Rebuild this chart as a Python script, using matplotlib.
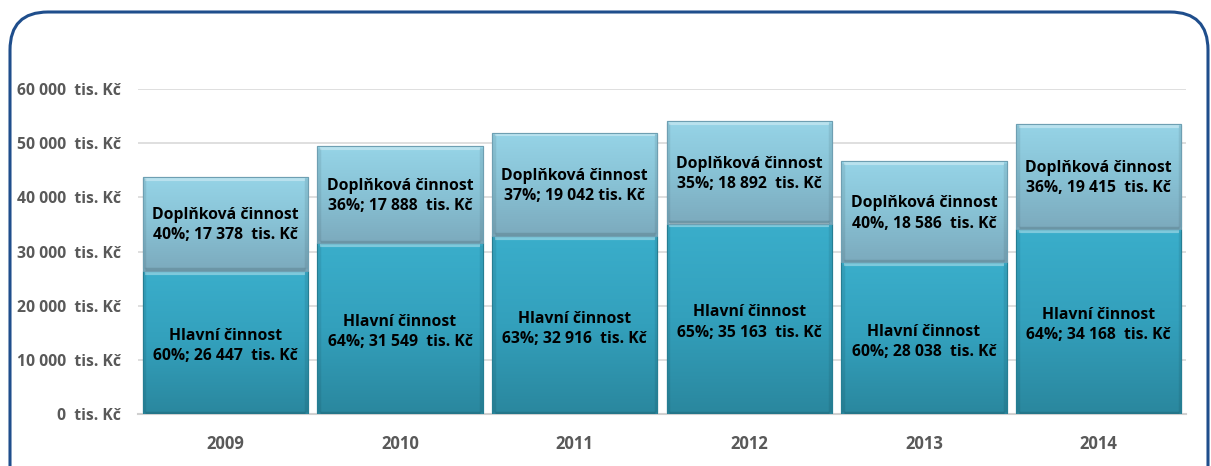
import numpy as np
import matplotlib
matplotlib.use("Agg")
import matplotlib.pyplot as plt
from matplotlib.patches import FancyBboxPatch
from matplotlib.colors import LinearSegmentedColormap

plt.rcParams.update({
    "font.family": ["Open Sans", "DejaVu Sans"],
    "font.weight": "bold",
})

years = ["2009", "2010", "2011", "2012", "2013", "2014"]
hlavni = [26447, 31549, 32916, 35163, 28038, 34168]
doplnkova = [17378, 17888, 19042, 18892, 18586, 19415]
hlavni_labels = [
    "Hlavní činnost\n60%; 26 447  tis. Kč",
    "Hlavní činnost\n64%; 31 549  tis. Kč",
    "Hlavní činnost\n63%; 32 916  tis. Kč",
    "Hlavní činnost\n65%; 35 163  tis. Kč",
    "Hlavní činnost\n60%; 28 038  tis. Kč",
    "Hlavní činnost\n64%; 34 168  tis. Kč",
]
doplnkova_labels = [
    "Doplňková činnost\n40%; 17 378  tis. Kč",
    "Doplňková činnost\n36%; 17 888  tis. Kč",
    "Doplňková činnost\n37%; 19 042 tis. Kč",
    "Doplňková činnost\n35%; 18 892  tis. Kč",
    "Doplňková činnost\n40%, 18 586  tis. Kč",
    "Doplňková činnost\n36%, 19 415  tis. Kč",
]
yticks = [0, 10000, 20000, 30000, 40000, 50000, 60000]
ytick_labels = ["0  tis. Kč", "10 000  tis. Kč", "20 000  tis. Kč", "30 000  tis. Kč",
                "40 000  tis. Kč", "50 000  tis. Kč", "60 000  tis. Kč"]

W, H = 1211, 466
fig = plt.figure(figsize=(W / 100, H / 100), dpi=100)

# rounded frame, drawn in a background axes measured in pixels
bg = fig.add_axes([0, 0, 1, 1], zorder=-1)
bg.set_xlim(0, W)
bg.set_ylim(H, 0)
bg.axis("off")
bg.add_patch(FancyBboxPatch((10, 12), 1198, 500,
                            boxstyle="round,pad=0,rounding_size=38",
                            facecolor="white", edgecolor="#1F4E8C", linewidth=2.2))

ax = fig.add_axes([138 / W, 1 - 414 / H, (1186 - 138) / W, (414 - 89) / H])
ax.set_facecolor("none")

x = np.arange(len(years))
width = 0.945

cmap_h = LinearSegmentedColormap.from_list("h", ["#2A879E", "#33A0BC", "#3AAECB"])
cmap_d = LinearSegmentedColormap.from_list("d", ["#7CAABD", "#88C2D5", "#96D4E7"])

bars_h = ax.bar(x, hlavni, width, color="#33A0BC", edgecolor="#257E93", linewidth=0.8, zorder=2)
bars_d = ax.bar(x, doplnkova, width, bottom=hlavni, color="#88C3D6",
                edgecolor="#6E9FB2", linewidth=0.8, zorder=2)

grad = np.linspace(0, 1, 256).reshape(-1, 1)
for bars, cmap in [(bars_h, cmap_h), (bars_d, cmap_d)]:
    for p in bars:
        x0, y0, w, h = p.get_x(), p.get_y(), p.get_width(), p.get_height()
        im = ax.imshow(grad, cmap=cmap, origin="lower", aspect="auto",
                       extent=[x0, x0 + w, y0, y0 + h], zorder=3)
        im.set_clip_path(p)
        # bevel: light top, darker bottom and sides
        ax.plot([x0 + 0.015, x0 + w - 0.015], [y0 + h - 350, y0 + h - 350],
                color="white", alpha=0.35, lw=3, zorder=4, solid_capstyle="butt")
        ax.plot([x0 + 0.015, x0 + w - 0.015], [y0 + 250, y0 + 250],
                color="black", alpha=0.12, lw=2.5, zorder=4, solid_capstyle="butt")
        for xs in (x0 + 0.008, x0 + w - 0.008):
            ax.plot([xs, xs], [y0 + 300, y0 + h - 300], color="black", alpha=0.08,
                    lw=2.5, zorder=4, solid_capstyle="butt")
        ax.add_patch(plt.Rectangle((x0, y0), w, h, fill=False,
                                   edgecolor=p.get_edgecolor(), lw=0.8, zorder=5))

for i in range(len(years)):
    ax.text(x[i], hlavni[i] / 2 - 700, hlavni_labels[i], ha="center", va="center",
            fontsize=11.3, fontweight="bold", color="black", linespacing=1.35, zorder=6)
    ax.text(x[i], hlavni[i] + doplnkova[i] / 2 - 300, doplnkova_labels[i], ha="center",
            va="center", fontsize=11.3, fontweight="bold", color="black",
            linespacing=1.35, zorder=6)

ax.set_xlim(-0.5, len(years) - 0.5)
ax.set_ylim(0, 60000)
ax.set_yticks(yticks)
ax.set_yticklabels(ytick_labels)
ax.set_xticks(x)
ax.set_xticklabels(years)
ax.tick_params(axis="y", length=0, pad=12, labelsize=11.3, labelcolor="#595959")
ax.tick_params(axis="x", length=0, pad=15, labelsize=12, labelcolor="#595959")
for lbl in ax.get_xticklabels() + ax.get_yticklabels():
    lbl.set_fontweight("bold")

ax.grid(axis="y", color="#D9D9D9", linewidth=1.2, zorder=0)
ax.set_axisbelow(True)
for side in ["top", "right", "left"]:
    ax.spines[side].set_visible(False)
ax.spines["bottom"].set_color("#D0D0D0")
ax.spines["bottom"].set_linewidth(1.5)

fig.savefig("out.png", dpi=100)
